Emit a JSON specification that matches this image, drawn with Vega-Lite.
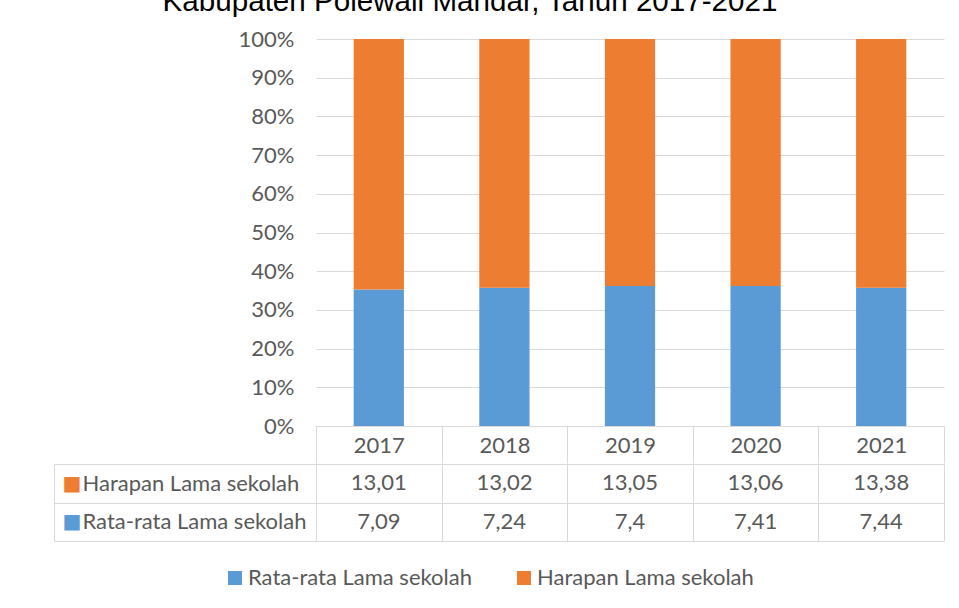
{
  "$schema": "https://vega.github.io/schema/vega-lite/v6.json",
  "padding": {"top": -13, "left": 53, "right": 10, "bottom": 10},
  "autosize": {"type": "pad"},
  "background": "white",
  "title": {"text": "Kabupaten Polewali Mandar, Tahun 2017-2021", "font": "Liberation Sans", "fontSize": 29.6, "fontWeight": "normal", "color": "#000000", "anchor": "middle", "offset": 10, "dx": -29},
  "data": {"values": [
    {"year": "2017", "series": "Rata-rata Lama sekolah", "value": 7.09},
    {"year": "2018", "series": "Rata-rata Lama sekolah", "value": 7.24},
    {"year": "2019", "series": "Rata-rata Lama sekolah", "value": 7.4},
    {"year": "2020", "series": "Rata-rata Lama sekolah", "value": 7.41},
    {"year": "2021", "series": "Rata-rata Lama sekolah", "value": 7.44},
    {"year": "2017", "series": "Harapan Lama sekolah", "value": 13.01},
    {"year": "2018", "series": "Harapan Lama sekolah", "value": 13.02},
    {"year": "2019", "series": "Harapan Lama sekolah", "value": 13.05},
    {"year": "2020", "series": "Harapan Lama sekolah", "value": 13.06},
    {"year": "2021", "series": "Harapan Lama sekolah", "value": 13.38}
  ]},
  "spacing": -12,
  "vconcat": [
    {
      "width": 628,
      "height": 387,
      "mark": {"type": "bar", "width": {"band": 0.4}},
      "encoding": {
        "x": {"field": "year", "type": "ordinal", "scale": {"paddingInner": 0, "paddingOuter": 0},
          "axis": {"title": null, "labelAngle": 0, "tickBand": "extent", "tickSize": 37, "tickColor": "#d9d9d9", "domainColor": "#d9d9d9", "labelPadding": -18, "labelBaseline": "middle", "grid": false}},
        "y": {"field": "value", "type": "quantitative", "stack": "normalize", "scale": {"domain": [0, 1]},
          "axis": {"title": null, "format": ".0%", "values": [0, 0.1, 0.2, 0.3, 0.4, 0.5, 0.6, 0.7, 0.8, 0.9, 1], "domain": false, "ticks": false, "labelPadding": 22, "gridColor": "#d9d9d9"}},
        "color": {"field": "series", "type": "nominal", "scale": {"domain": ["Rata-rata Lama sekolah", "Harapan Lama sekolah"], "range": ["#5b9bd5", "#ed7d31"]},
          "legend": {"title": null, "orient": "none", "legendX": -92, "legendY": 528, "direction": "horizontal", "symbolType": "square", "symbolSize": 196, "symbolStrokeWidth": 0, "labelFontSize": 22, "labelFont": "Lato", "labelColor": "#595959", "labelLimit": 400, "labelOffset": 2, "columnPadding": 41}},
        "order": {"field": "series", "sort": "descending"}
      }
    },
    {
      "width": 628,
      "height": 77,
      "layer": [
        {
          "mark": {"type": "text", "font": "Lato", "fontSize": 22, "color": "#595959", "baseline": "middle"},
          "encoding": {
            "x": {"field": "year", "type": "ordinal", "scale": {"paddingInner": 0, "paddingOuter": 0},
              "axis": {"title": null, "labels": false, "ticks": false, "domain": false, "grid": true, "tickBand": "extent", "gridColor": "#d9d9d9"}},
            "y": {"field": "series", "type": "nominal", "scale": {"domain": ["Harapan Lama sekolah", "Rata-rata Lama sekolah"], "paddingInner": 0, "paddingOuter": 0},
              "axis": {"title": null, "orient": "left", "offset": 262, "tickSize": -262, "tickBand": "extent", "tickColor": "#d9d9d9", "domainColor": "#d9d9d9", "grid": true, "gridColor": "#d9d9d9", "labelAlign": "left", "labelBaseline": "middle", "labelPadding": 234, "labelLimit": 0}},
            "text": {"field": "value", "type": "quantitative", "format": "~f"}
          }
        },
        {
          "mark": {"type": "text", "opacity": 0},
          "encoding": {
            "x": {"field": "year", "type": "ordinal"},
            "y": {"field": "series", "type": "nominal", "scale": {"domain": ["Harapan Lama sekolah", "Rata-rata Lama sekolah"], "paddingInner": 0, "paddingOuter": 0},
              "axis": {"title": null, "orient": "left", "domain": false, "ticks": false, "grid": false, "labelExpr": "'■'", "labelFont": "DejaVu Sans", "labelFontSize": 20, "labelAlign": "left", "labelBaseline": "middle", "labelPadding": 254,
                "labelColor": {"condition": {"test": "datum.value === 'Harapan Lama sekolah'", "value": "#ed7d31"}, "value": "#5b9bd5"}}},
            "text": {"field": "value", "type": "quantitative"}
          }
        }
      ],
      "resolve": {"scale": {"y": "independent"}, "axis": {"y": "independent"}}
    }
  ],
  "config": {
    "locale": {"number": {"decimal": ",", "thousands": ".", "grouping": [3], "currency": ["", ""]}},
    "view": {"stroke": null},
    "axis": {"labelFont": "Lato", "labelFontSize": 22, "labelColor": "#595959"}
  }
}
